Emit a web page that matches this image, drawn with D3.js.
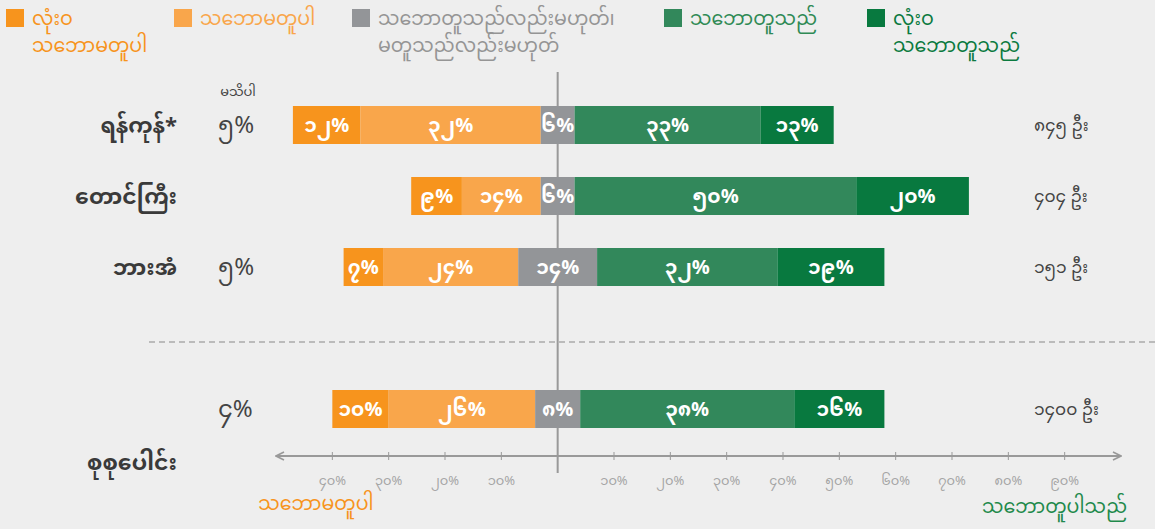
<!DOCTYPE html>
<html>
<head>
<meta charset="utf-8">
<script src="https://cdn.jsdelivr.net/npm/d3@7"></script>
<style>
  body { margin: 0; background: #eeeeee; font-family: "Noto Sans Myanmar", "Padauk", "Myanmar Text", "Noto Sans", sans-serif; }
  svg text { font-family: inherit; }
</style>
</head>
<body>
<svg id="chart"></svg>
<script>
const regions = ["ရန်ကုန်*", "တောင်ကြီး", "ဘားအံ", "စုစုပေါင်း"];
const stronglyDisagree = [12, 9, 7, 10];
const disagree = [32, 14, 24, 26];
const neutral = [6, 6, 14, 8];
const agree = [33, 50, 32, 38];
const stronglyAgree = [13, 20, 19, 16];
const dontKnow = [5, null, 5, 4];
const respondents = [845, 404, 151, 1400];
const leftTicks = [-40, -30, -20, -10];
const rightTicks = [10, 20, 30, 40, 50, 60, 70, 80, 90];

const seriesNames = ["လုံးဝ\nသဘောမတူပါ", "သဘောမတူပါ", "သဘောတူသည်လည်းမဟုတ်၊\nမတူသည်လည်းမဟုတ်", "သဘောတူသည်", "လုံးဝ\nသဘောတူသည်"];
const colors = ["#f7941d", "#f9a64b", "#939598", "#32885b", "#08793f"];
const textColors = ["#f7941d", "#f9a64b", "#959595", "#2f8a55", "#0b7a3f"];

const width = 1155, height = 529;
const myDigits = "၀၁၂၃၄၅၆၇၈၉";
const toMy = n => String(n).replace(/[0-9]/g, c => myDigits[+c]);

const svg = d3.select("#chart").attr("width", width).attr("height", height);

const x = d3.scaleLinear().domain([-50, 100]).range([276, 1121]);
const y = d3.scalePoint().domain([regions[0], regions[1], regions[2], "gap", regions[3]]).range([125, 409]);
const barH = 38;

// zero line
svg.append("line")
  .attr("x1", x(0)).attr("x2", x(0))
  .attr("y1", 72).attr("y2", 473)
  .attr("stroke", "#999").attr("stroke-width", 2);

// dashed divider
svg.append("line")
  .attr("x1", 149).attr("x2", width)
  .attr("y1", y("gap") + 4).attr("y2", y("gap") + 4)
  .attr("stroke", "#aaa").attr("stroke-width", 1.3)
  .attr("stroke-dasharray", "6,4");

// stacked bars, neutral centred on zero
const rows = regions.map((r, i) => {
  const vals = [stronglyDisagree[i], disagree[i], neutral[i], agree[i], stronglyAgree[i]];
  let start = -(vals[0] + vals[1] + vals[2] / 2);
  const segs = vals.map((v, k) => {
    const s = { k, v, x0: start, x1: start + v };
    start += v;
    return s;
  });
  return { region: r, segs };
});

const g = svg.selectAll(".row").data(rows).enter().append("g")
  .attr("transform", d => `translate(0,${y(d.region)})`);

g.selectAll("rect").data(d => d.segs).enter().append("rect")
  .attr("x", d => x(d.x0))
  .attr("y", -barH / 2)
  .attr("width", d => x(d.x1) - x(d.x0))
  .attr("height", barH)
  .attr("fill", d => colors[d.k]);

g.selectAll(".seg-label").data(d => d.segs).enter().append("text")
  .attr("x", d => (x(d.x0) + x(d.x1)) / 2)
  .attr("y", 0)
  .attr("dy", "0.35em")
  .attr("text-anchor", "middle")
  .attr("fill", "#fff")
  .attr("font-size", 20)
  .attr("font-weight", "bold")
  .text(d => toMy(d.v) + "%");

// row labels
svg.selectAll(".region").data(regions).enter().append("text")
  .attr("x", 177)
  .attr("y", (d, i) => i === 3 ? 462 : y(d))
  .attr("dy", "0.35em")
  .attr("text-anchor", "end")
  .attr("fill", "#3a3a3a")
  .attr("font-size", 22)
  .attr("font-weight", "bold")
  .text(d => d);

// don't know
svg.append("text")
  .attr("x", 238).attr("y", 91).attr("dy", "0.35em")
  .attr("text-anchor", "middle")
  .attr("fill", "#444").attr("font-size", 13)
  .text("မသိပါ");

svg.selectAll(".dk").data(regions).enter().filter((d, i) => dontKnow[i] != null).append("text")
  .attr("x", 218)
  .attr("y", d => y(d))
  .attr("dy", "0.35em")
  .attr("fill", "#444")
  .attr("font-size", 24)
  .text(d => toMy(dontKnow[regions.indexOf(d)]) + "%");

// respondents
svg.selectAll(".resp").data(regions).enter().append("text")
  .attr("x", 1034)
  .attr("y", d => y(d))
  .attr("dy", "0.35em")
  .attr("fill", "#444")
  .attr("font-size", 17)
  .text((d, i) => toMy(respondents[i]) + " ဦး");

// bottom axis with arrows
const axisY = 456;
svg.append("defs").append("marker")
  .attr("id", "arrow")
  .attr("viewBox", "0 0 10 10")
  .attr("refX", 9).attr("refY", 5)
  .attr("markerWidth", 5).attr("markerHeight", 5)
  .attr("orient", "auto-start-reverse")
  .append("path")
  .attr("d", "M1,1 L9,5 L1,9")
  .attr("fill", "none").attr("stroke", "#999").attr("stroke-width", 1.6);

svg.append("line")
  .attr("x1", x(-50)).attr("x2", x(100))
  .attr("y1", axisY).attr("y2", axisY)
  .attr("stroke", "#999").attr("stroke-width", 2)
  .attr("marker-start", "url(#arrow)")
  .attr("marker-end", "url(#arrow)");

const allTicks = leftTicks.concat(rightTicks);
svg.selectAll(".tick").data(allTicks).enter().append("line")
  .attr("x1", d => x(d)).attr("x2", d => x(d))
  .attr("y1", axisY - 4).attr("y2", axisY + 4)
  .attr("stroke", "#999").attr("stroke-width", 1);

svg.selectAll(".tick-label").data(allTicks).enter().append("text")
  .attr("x", d => x(d))
  .attr("y", 480)
  .attr("dy", "0.35em")
  .attr("text-anchor", "middle")
  .attr("fill", "#a5a5a5")
  .attr("font-size", 13)
  .text(d => toMy(Math.abs(d)) + "%");

svg.append("text")
  .attr("x", 316).attr("y", 503).attr("dy", "0.35em")
  .attr("text-anchor", "middle")
  .attr("fill", "#f7941d").attr("font-size", 19)
  .text("သဘောမတူပါ");

svg.append("text")
  .attr("x", 1127).attr("y", 506).attr("dy", "0.35em")
  .attr("text-anchor", "end")
  .attr("fill", "#1f8a4c").attr("font-size", 19)
  .text("သဘောတူပါသည်");

// legend
const legendX = [6, 174, 352, 664, 867];
const legend = svg.selectAll(".legend").data(seriesNames).enter().append("g")
  .attr("transform", (d, i) => `translate(${legendX[i]},9)`);

legend.append("rect")
  .attr("width", 18).attr("height", 18)
  .attr("fill", (d, i) => colors[i]);

legend.append("text")
  .attr("x", 26)
  .attr("fill", (d, i) => textColors[i])
  .attr("font-size", 19)
  .selectAll("tspan").data(d => d.split("\n")).enter().append("tspan")
  .attr("x", 26)
  .attr("y", (d, j) => 9 + j * 27)
  .attr("dy", "0.35em")
  .text(d => d);
</script>
</body>
</html>
